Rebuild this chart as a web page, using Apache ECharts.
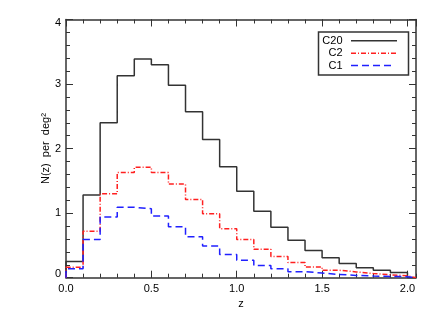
<!DOCTYPE html>
<html><head><meta charset="utf-8">
<script src="https://cdn.jsdelivr.net/npm/echarts@6/dist/echarts.min.js"></script>
<style>html,body{margin:0;padding:0;background:#fff}#c{width:436px;height:319px}</style>
</head><body><div id="c"></div>
<script>
// bin lower edges (bin width 0.1)
const binStarts = [0.0,0.1,0.2,0.3,0.4,0.5,0.6,0.7,0.8,0.9,1.0,1.1,1.2,1.3,1.4,1.5,1.6,1.7,1.8,1.9];
const binEnd = 2.0;
const c20 = [0.25,1.28,2.40,3.13,3.39,3.30,2.98,2.57,2.14,1.72,1.34,1.03,0.78,0.58,0.42,0.31,0.22,0.155,0.115,0.08];
const c2  = [0.16,0.72,1.30,1.63,1.71,1.63,1.45,1.21,0.99,0.76,0.59,0.44,0.33,0.235,0.165,0.115,0.09,0.065,0.045,0.03];
const c1  = [0.14,0.59,0.94,1.09,1.07,0.955,0.79,0.635,0.49,0.36,0.27,0.19,0.14,0.093,0.072,0.05,0.036,0.026,0.02,0.015];
const seriesNames = ['C20','C2','C1'];
const xTickLabels = ['0.0','0.5','1.0','1.5','2.0'];
const yTickLabels = ['0','1','2','3','4'];

const FONT = '"Liberation Sans", Arial, sans-serif';
const AX = '#333';

function stepData(vals){
  const d = [[binStarts[0], 0]];
  binStarts.forEach((b,i)=>d.push([b, vals[i]]));
  d.push([binEnd, 0]);
  d.push([2.05, 0]);
  return d;
}

const xBase = {type:'value', min:0, max:2.05, splitLine:{show:false}, gridIndex:0};
const yBase = {type:'value', min:0, max:4, interval:1, splitLine:{show:false}};
const lineOn = {show:true, onZero:false, lineStyle:{color:AX, width:1.5}};
const lineOff = {show:false, onZero:false};

const chart = echarts.init(document.getElementById('c'), null, {renderer:'canvas'});
chart.setOption({
  animation:false,
  backgroundColor:'#fff',
  grid:{left:66, right:20, top:19.5, bottom:41.3, containLabel:false},
  xAxis:[
    Object.assign({}, xBase, {position:'bottom', interval:0.5,
      axisLine:lineOn,
      axisTick:{show:true, inside:true, length:7, lineStyle:{color:AX}},
      axisLabel:{show:true, margin:6, showMaxLabel:false, color:'#000', fontFamily:FONT, fontSize:11,
        formatter:(v)=>{const i=Math.round(v/0.5); return (Math.abs(v-i*0.5)<1e-6 && xTickLabels[i])?xTickLabels[i]:'';}},
      name:'z', nameLocation:'middle', nameGap:21, nameMoveOverlap:false, nameTextStyle:{color:'#000', fontFamily:FONT, fontSize:11}}),
    Object.assign({}, xBase, {position:'bottom', interval:0.1,
      axisLine:lineOff, axisTick:{show:true, inside:true, length:4, lineStyle:{color:AX}}, axisLabel:{show:false}}),
    Object.assign({}, xBase, {position:'top', interval:0.5,
      axisLine:lineOn,
      axisTick:{show:true, inside:true, length:7, lineStyle:{color:AX}}, axisLabel:{show:false}}),
    Object.assign({}, xBase, {position:'top', interval:0.1,
      axisLine:lineOff, axisTick:{show:true, inside:true, length:4, lineStyle:{color:AX}}, axisLabel:{show:false}})
  ],
  yAxis:[
    Object.assign({}, yBase, {position:'left',
      axisLine:lineOn,
      axisTick:{show:true, inside:true, length:7, lineStyle:{color:AX}},
      minorTick:{show:true, splitNumber:5, length:4, lineStyle:{color:AX}},
      axisLabel:{show:true, margin:5, color:'#000', fontFamily:FONT, fontSize:11,
        formatter:(v)=>{const i=Math.round(v); const t=yTickLabels[i]; if(i===0) return '{lo|'+t+'}'; if(i===4) return '{hi|'+t+'}'; return t;},
        rich:{lo:{padding:[0,0,7,0], fontFamily:FONT, fontSize:11, color:'#000'}, hi:{padding:[7,0,0,0], fontFamily:FONT, fontSize:11, color:'#000'}}},
      name:'N(z)  per  deg\u00B2', nameLocation:'middle', nameGap:15, nameMoveOverlap:false, nameTextStyle:{color:'#000', fontFamily:FONT, fontSize:11}}),
    Object.assign({}, yBase, {position:'right',
      axisLine:lineOn,
      axisTick:{show:true, inside:true, length:7, lineStyle:{color:AX}},
      minorTick:{show:true, splitNumber:5, length:4, lineStyle:{color:AX}},
      axisLabel:{show:false}})
  ],
  series:[
    {name:seriesNames[0], type:'line', step:'end', data:stepData(c20), symbol:'none', xAxisIndex:0, yAxisIndex:0,
      lineStyle:{color:'#333', width:1.5, type:'solid'}, z:2},
    {name:seriesNames[1], type:'line', step:'end', data:stepData(c2), symbol:'none', xAxisIndex:0, yAxisIndex:0,
      lineStyle:{color:'#ff2020', width:1.5, type:[5,2,1,2]}, z:3},
    {name:seriesNames[2], type:'line', step:'end', data:stepData(c1), symbol:'none', xAxisIndex:0, yAxisIndex:0,
      lineStyle:{color:'#2020ff', width:1.5, type:[7,4]}, z:4}
  ],
  graphic:[
    {type:'rect', shape:{x:318.5, y:32, width:90, height:43}, style:{fill:'#fff', stroke:AX, lineWidth:1.5}, z:10},
    {type:'text', x:342.5, y:40.7, style:{text:seriesNames[0], font:'11px '+FONT, fill:'#000', align:'right', verticalAlign:'middle', textAlign:'right', textVerticalAlign:'middle'}, z:11},
    {type:'text', x:342.5, y:53.2, style:{text:seriesNames[1], font:'11px '+FONT, fill:'#000', align:'right', verticalAlign:'middle', textAlign:'right', textVerticalAlign:'middle'}, z:11},
    {type:'text', x:342.5, y:65.5, style:{text:seriesNames[2], font:'11px '+FONT, fill:'#000', align:'right', verticalAlign:'middle', textAlign:'right', textVerticalAlign:'middle'}, z:11},
    {type:'line', shape:{x1:351, y1:40.7, x2:397, y2:40.7}, style:{stroke:'#333', lineWidth:1.5}, z:11},
    {type:'line', shape:{x1:351, y1:53.2, x2:396, y2:53.2}, style:{stroke:'#ff2020', lineWidth:1.5, lineDash:[5,2,1,2]}, z:11},
    {type:'line', shape:{x1:351, y1:65.5, x2:392, y2:65.5}, style:{stroke:'#2020ff', lineWidth:1.5, lineDash:[7,4]}, z:11}
  ]
});
</script></body></html>
